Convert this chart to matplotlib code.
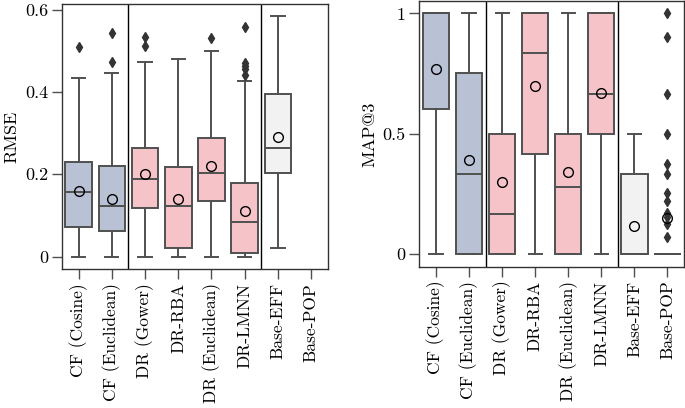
import matplotlib
matplotlib.use("Agg")
import matplotlib.pyplot as plt

plt.rcParams['font.family'] = ['cmr10', 'DejaVu Serif']
plt.rcParams['axes.formatter.use_mathtext'] = True

#method names along the x axis
methods = ["CF (Cosine)", "CF (Euclidean)", "DR (Gower)", "DR-RBA",
           "DR (Euclidean)", "DR-LMNN", "Base-EFF", "Base-POP"]
colors = ["#b9c1d4", "#b9c1d4", "#f6c4c8", "#f6c4c8",
          "#f6c4c8", "#f6c4c8", "#f2f2f2", "#f2f2f2"]

#RMSE box statistics (Base-POP has none)
rmse_low = [0.0, 0.0, 0.0, 0.0, 0.0, 0.0, 0.020]
rmse_q1 = [0.071, 0.062, 0.117, 0.020, 0.134, 0.010, 0.202]
rmse_med = [0.157, 0.122, 0.189, 0.123, 0.202, 0.085, 0.265]
rmse_q3 = [0.230, 0.219, 0.265, 0.217, 0.289, 0.180, 0.394]
rmse_high = [0.434, 0.447, 0.473, 0.481, 0.500, 0.426, 0.585]
rmse_mean = [0.159, 0.140, 0.200, 0.140, 0.220, 0.110, 0.290]
rmse_out = [[0.508], [0.544, 0.472], [0.534, 0.512], [], [0.531],
            [0.558, 0.471, 0.464, 0.456, 0.441], []]

#MAP@3 box statistics
map_low = [0.0, 0.0, 0.0, 0.0, 0.0, 0.0, 0.0, 0.0]
map_q1 = [0.601, 0.0, 0.0, 0.416, 0.0, 0.5, 0.0, 0.0]
map_med = [1.0, 0.332, 0.165, 0.834, 0.277, 0.666, 0.0, 0.0]
map_q3 = [1.0, 0.751, 0.5, 1.0, 0.5, 1.0, 0.332, 0.0]
map_high = [1.0, 1.0, 1.0, 1.0, 1.0, 1.0, 0.5, 0.0]
map_mean = [0.77, 0.389, 0.298, 0.70, 0.339, 0.669, 0.118, 0.15]
map_out = [[], [], [], [], [], [], [],
           [1.0, 0.903, 0.665, 0.5, 0.375, 0.332, 0.252, 0.222,
            0.169, 0.152, 0.125, 0.069]]

def make_stats(low, q1, med, q3, high, mean, out):
    stats = []
    for i in range(len(low)):
        stats.append(dict(whislo=low[i], q1=q1[i], med=med[i], q3=q3[i],
                          whishi=high[i], mean=mean[i], fliers=out[i]))
    return stats

def draw_panel(ax, stats, ylabel, ylim, yticks, yticklabels):
    grey = "#505050"
    bp = ax.bxp(stats, positions=range(len(stats)), widths=0.8,
                patch_artist=True, showmeans=True, showcaps=True,
                boxprops=dict(edgecolor=grey, linewidth=1.4),
                whiskerprops=dict(color=grey, linewidth=1.4),
                capprops=dict(color=grey, linewidth=1.4),
                medianprops=dict(color=grey, linewidth=1.4),
                meanprops=dict(marker="o", markerfacecolor="none",
                               markeredgecolor="black", markersize=7,
                               markeredgewidth=1.0),
                flierprops=dict(marker="d", markerfacecolor="#333333",
                                markeredgecolor="#333333", markersize=4.8))
    for patch, c in zip(bp["boxes"], colors):
        patch.set_facecolor(c)
    for cap in bp["caps"]:
        x = cap.get_xdata()
        mid = (x[0] + x[1]) / 2
        cap.set_xdata([mid - 0.2, mid + 0.2])

    #separators between method families
    ax.axvline(1.5, color="black", linewidth=1)
    ax.axvline(5.5, color="black", linewidth=1)

    ax.set_xlim(-0.5, 7.5)
    ax.set_ylim(*ylim)
    ax.set_xticks(range(len(methods)))
    ax.set_xticklabels(methods, rotation=90, fontsize=12.5)
    ax.set_yticks(yticks)
    ax.set_yticklabels(yticklabels, fontsize=13)
    ax.set_ylabel(ylabel, fontsize=13, labelpad=4)
    ax.tick_params(direction="out", length=7, pad=3, color=grey, width=1)
    for s in ax.spines.values():
        s.set_color("#333333")
        s.set_linewidth(1)

fig = plt.figure(figsize=(6.85, 4.08), dpi=100)
ax1 = fig.add_axes([0.0905, 0.3407, 0.388, 0.649])
ax2 = fig.add_axes([0.6124, 0.3463, 0.386, 0.651])

draw_panel(ax1, make_stats(rmse_low, rmse_q1, rmse_med, rmse_q3, rmse_high,
                           rmse_mean, rmse_out),
           "RMSE", (-0.03, 0.613), [0, 0.2, 0.4, 0.6], ["0", "0.2", "0.4", "0.6"])
draw_panel(ax2, make_stats(map_low, map_q1, map_med, map_q3, map_high,
                           map_mean, map_out),
           "MAP@3", (-0.053, 1.051), [0, 0.5, 1], ["0", "0.5", "1"])

fig.savefig("out.png", dpi=100)
